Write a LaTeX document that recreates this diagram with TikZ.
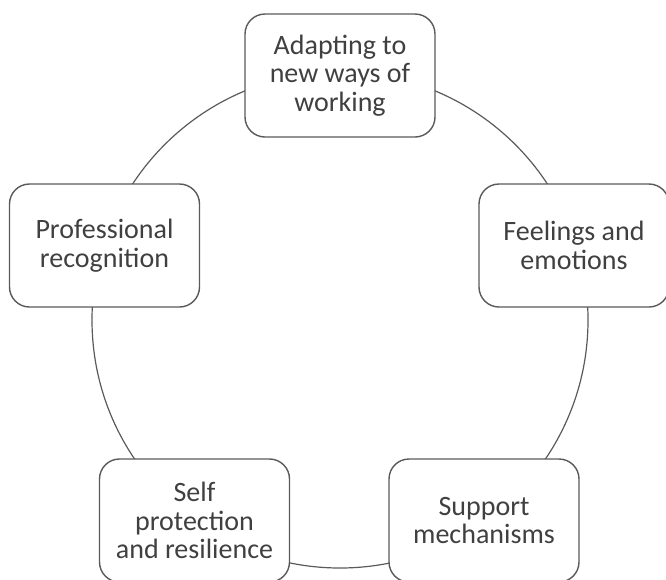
\documentclass[tikz,border=0pt]{standalone}
\usepackage{fontspec}
\setmainfont{Carlito}
\definecolor{txtgray}{HTML}{404040}
\definecolor{linegray}{HTML}{5A5A5A}
\begin{document}
\begin{tikzpicture}[x=1pt,y=-1pt,
  theme/.style={draw=linegray, line width=1.4pt, fill=white, rounded corners=20pt,
    minimum width=190pt, minimum height=123pt, align=center, text=txtgray,
    font=\fontsize{28}{28.7}\selectfont, inner sep=0pt},
  ring/.style={draw=linegray, line width=1.2pt, circle, minimum size=496pt, inner sep=0pt}]
\useasboundingbox (0,0) rectangle (666,579);
\node[ring] (cycle) at (340,320) {};
\node[theme] (adapt) at (340,75.5) {Adapting to\\new ways of\\working};
\node[theme] (feel) at (574,245.5) {Feelings and\\emotions};
\node[theme] (support) at (484,520.5) {Support\\mechanisms};
\node[theme] (self) at (194.5,520.5) {Self\\protection\\and resilience};
\node[theme] (prof) at (104.5,245.5) {Professional\\recognition};
\end{tikzpicture}
\end{document}
